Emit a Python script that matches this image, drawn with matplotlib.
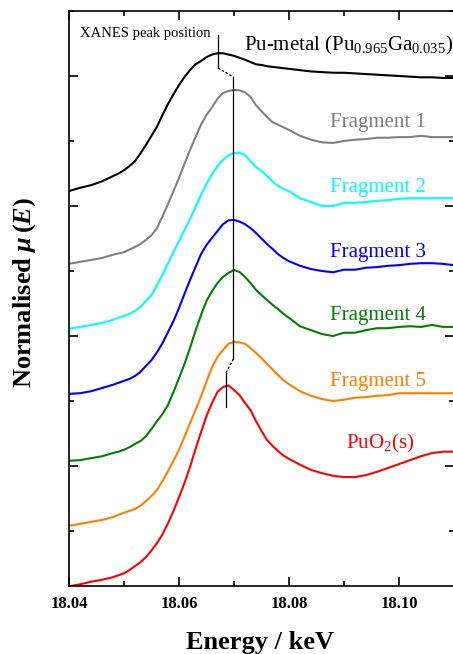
import matplotlib
matplotlib.use('Agg')
import matplotlib.pyplot as plt
from matplotlib.ticker import MultipleLocator

plt.rcParams['font.family'] = ['Liberation Serif', 'DejaVu Serif']
plt.rcParams['mathtext.fontset'] = 'custom'
plt.rcParams['mathtext.rm'] = 'Liberation Serif'
plt.rcParams['mathtext.it'] = 'Liberation Serif:italic:bold'
plt.rcParams['mathtext.bf'] = 'Liberation Serif:bold'

# energy (keV): 2 eV steps off the edge, 1 eV steps across it
energy = [18.040, 18.042, 18.044, 18.046, 18.048,
          18.049, 18.050, 18.051, 18.052, 18.053, 18.054, 18.055, 18.056,
          18.057, 18.058, 18.059, 18.060, 18.061, 18.062, 18.063, 18.064,
          18.065, 18.066, 18.067, 18.068, 18.069, 18.070, 18.071, 18.072,
          18.073, 18.074, 18.075, 18.076, 18.077, 18.078, 18.079, 18.080,
          18.082, 18.084, 18.086, 18.088, 18.090, 18.092, 18.094, 18.096,
          18.098, 18.100, 18.102, 18.104, 18.106, 18.108, 18.110]

# normalised mu(E), stacked with offsets
pu_metal = [6.23, 6.28, 6.32, 6.38, 6.46,
            6.50, 6.55, 6.615, 6.69, 6.81, 6.94, 7.08, 7.22,
            7.40, 7.57, 7.72, 7.86, 7.985, 8.09, 8.18, 8.23,
            8.29, 8.33, 8.35, 8.35, 8.33, 8.31, 8.28, 8.25,
            8.215, 8.18, 8.17, 8.15, 8.14, 8.13, 8.12, 8.11,
            8.09, 8.07, 8.06, 8.05, 8.05, 8.04, 8.03, 8.02,
            8.01, 8.00, 7.99, 7.98, 7.98, 7.97, 7.97]
frag1 = [5.11, 5.14, 5.17, 5.20, 5.25,
         5.27, 5.29, 5.33, 5.37, 5.415, 5.48, 5.55, 5.66,
         5.84, 6.03, 6.23, 6.43, 6.65, 6.86, 7.06, 7.25,
         7.40, 7.52, 7.65, 7.74, 7.77, 7.785, 7.78, 7.75,
         7.68, 7.55, 7.46, 7.37, 7.29, 7.25, 7.21, 7.17,
         7.08, 7.02, 6.98, 6.97, 7.00, 7.02, 7.03, 7.05,
         7.05, 7.06, 7.06, 7.08, 7.06, 7.06, 7.06]
frag2 = [4.11, 4.14, 4.17, 4.20, 4.25,
         4.28, 4.31, 4.34, 4.385, 4.45, 4.54, 4.63, 4.785,
         4.94, 5.12, 5.29, 5.46, 5.63, 5.80, 5.985, 6.17,
         6.34, 6.49, 6.615, 6.71, 6.78, 6.815, 6.82, 6.785,
         6.69, 6.60, 6.54, 6.46, 6.38, 6.31, 6.26, 6.23,
         6.12, 6.06, 6.00, 6.00, 6.05, 6.05, 6.06, 6.08,
         6.09, 6.11, 6.12, 6.12, 6.12, 6.12, 6.12]
frag3 = [3.11, 3.12, 3.15, 3.20, 3.25,
         3.28, 3.31, 3.34, 3.385, 3.45, 3.54, 3.63, 3.75,
         3.89, 4.06, 4.23, 4.43, 4.65, 4.86, 5.06, 5.26,
         5.40, 5.51, 5.615, 5.72, 5.78, 5.785, 5.76, 5.72,
         5.66, 5.585, 5.50, 5.415, 5.34, 5.26, 5.20, 5.15,
         5.08, 5.03, 5.00, 4.98, 5.02, 5.02, 5.05, 5.06,
         5.08, 5.09, 5.11, 5.12, 5.12, 5.11, 5.09]
frag4 = [2.08, 2.09, 2.12, 2.15, 2.20,
         2.22, 2.25, 2.29, 2.34, 2.385, 2.46, 2.57, 2.69,
         2.80, 2.94, 3.14, 3.35, 3.57, 3.815, 4.08, 4.32,
         4.54, 4.69, 4.815, 4.91, 4.97, 5.015, 4.985, 4.91,
         4.815, 4.71, 4.63, 4.555, 4.48, 4.415, 4.34, 4.28,
         4.15, 4.09, 4.03, 4.00, 4.05, 4.05, 4.09, 4.12,
         4.12, 4.14, 4.15, 4.14, 4.17, 4.14, 4.14]
frag5 = [1.08, 1.11, 1.14, 1.17, 1.215,
         1.25, 1.28, 1.31, 1.34, 1.39, 1.46, 1.54, 1.63,
         1.77, 1.92, 2.08, 2.25, 2.45, 2.66, 2.86, 3.07,
         3.30, 3.52, 3.68, 3.785, 3.88, 3.91, 3.90, 3.88,
         3.815, 3.74, 3.66, 3.57, 3.485, 3.40, 3.32, 3.26,
         3.15, 3.08, 3.03, 3.00, 3.02, 3.05, 3.06, 3.08,
         3.09, 3.12, 3.12, 3.12, 3.12, 3.12, 3.12]
puo2 = [0.15, 0.18, 0.22, 0.25, 0.29,
        0.32, 0.35, 0.40, 0.46, 0.52, 0.60, 0.70, 0.815,
        0.95, 1.12, 1.31, 1.52, 1.74, 1.985, 2.26, 2.52,
        2.77, 2.97, 3.14, 3.215, 3.24, 3.17, 3.09, 2.97,
        2.86, 2.69, 2.54, 2.40, 2.31, 2.23, 2.16, 2.11,
        2.02, 1.94, 1.89, 1.85, 1.83, 1.83, 1.86, 1.91,
        1.97, 2.03, 2.09, 2.15, 2.20, 2.22, 2.22]

series = [pu_metal, frag1, frag2, frag3, frag4, frag5, puo2]
colors = ['black', '#808080', '#00ffff', '#0000ff', '#008000', '#ff8000', '#ff0000']
labels = ['Fragment 1', 'Fragment 2', 'Fragment 3', 'Fragment 4', 'Fragment 5']
label_y = [7.22, 6.22, 5.22, 4.245, 3.235]

# XANES peak positions (keV) and marker spans
peak_e = [18.0671, 18.0699, 18.0685]
peak_top = [8.63, 7.985, 3.431]
peak_bot = [8.123, 3.646, 2.908]

fig = plt.figure(figsize=(4.53, 6.54), dpi=100)
ax = fig.add_axes([69 / 453, 1 - 586 / 654, 385 / 453, 575 / 654])

for y, c in zip(series, colors):
    ax.plot(energy, y, color=c, lw=1.5, solid_joinstyle='round')

# peak markers: solid verticals joined by short dashes
for e, t, b in zip(peak_e, peak_top, peak_bot):
    ax.plot([e, e], [t, b], color='black', lw=0.9)
for i in range(len(peak_e) - 1):
    ax.plot([peak_e[i], peak_e[i + 1]], [peak_bot[i], peak_top[i + 1]],
            color='black', lw=0.9, ls=(0, (2, 1.5)))

ax.text(18.0539, 8.595, 'XANES peak position', fontsize=10.5, ha='center', va='baseline')
ax.text(18.0909, 8.39, r'Pu-metal (Pu$_{0.965}$Ga$_{0.035}$)', fontsize=15,
        ha='center', va='baseline')
for lab, ly, c in zip(labels, label_y, colors[1:6]):
    ax.text(18.0962, ly, lab, fontsize=15, color=c, ha='center', va='baseline')
ax.text(18.0966, 2.277, r'PuO$_2$(s)', fontsize=15, color='#ff0000',
        ha='center', va='baseline')

ax.set_xlim(18.04, 18.11)
ax.set_ylim(0.154, 9.0)
ax.xaxis.set_major_locator(MultipleLocator(0.02))
ax.xaxis.set_minor_locator(MultipleLocator(0.01))
ax.yaxis.set_major_locator(MultipleLocator(2))
ax.yaxis.set_minor_locator(MultipleLocator(1))
ax.set_yticklabels([])
ax.tick_params(which='both', direction='in', top=True, right=True, width=1.2)
ax.tick_params(which='major', length=6.5)
ax.tick_params(which='minor', length=3.5)
ax.tick_params(axis='x', pad=7, labelsize=12)
ax.set_xticks([18.04, 18.06, 18.08, 18.10])
ax.set_xticklabels(['18.04', '18.06', '18.08', '18.10'], fontweight='bold')
for s in ax.spines.values():
    s.set_linewidth(1.2)

fig.text(260 / 453, 1 - 642 / 654, 'Energy / keV', fontsize=19, fontweight='bold',
         ha='center', va='center')
fig.text(25 / 453, 1 - 292 / 654, r'Normalised $\mu\,$($E$)', fontsize=19,
         fontweight='bold', rotation=90, ha='center', va='center')

fig.savefig('out.png', dpi=100)
